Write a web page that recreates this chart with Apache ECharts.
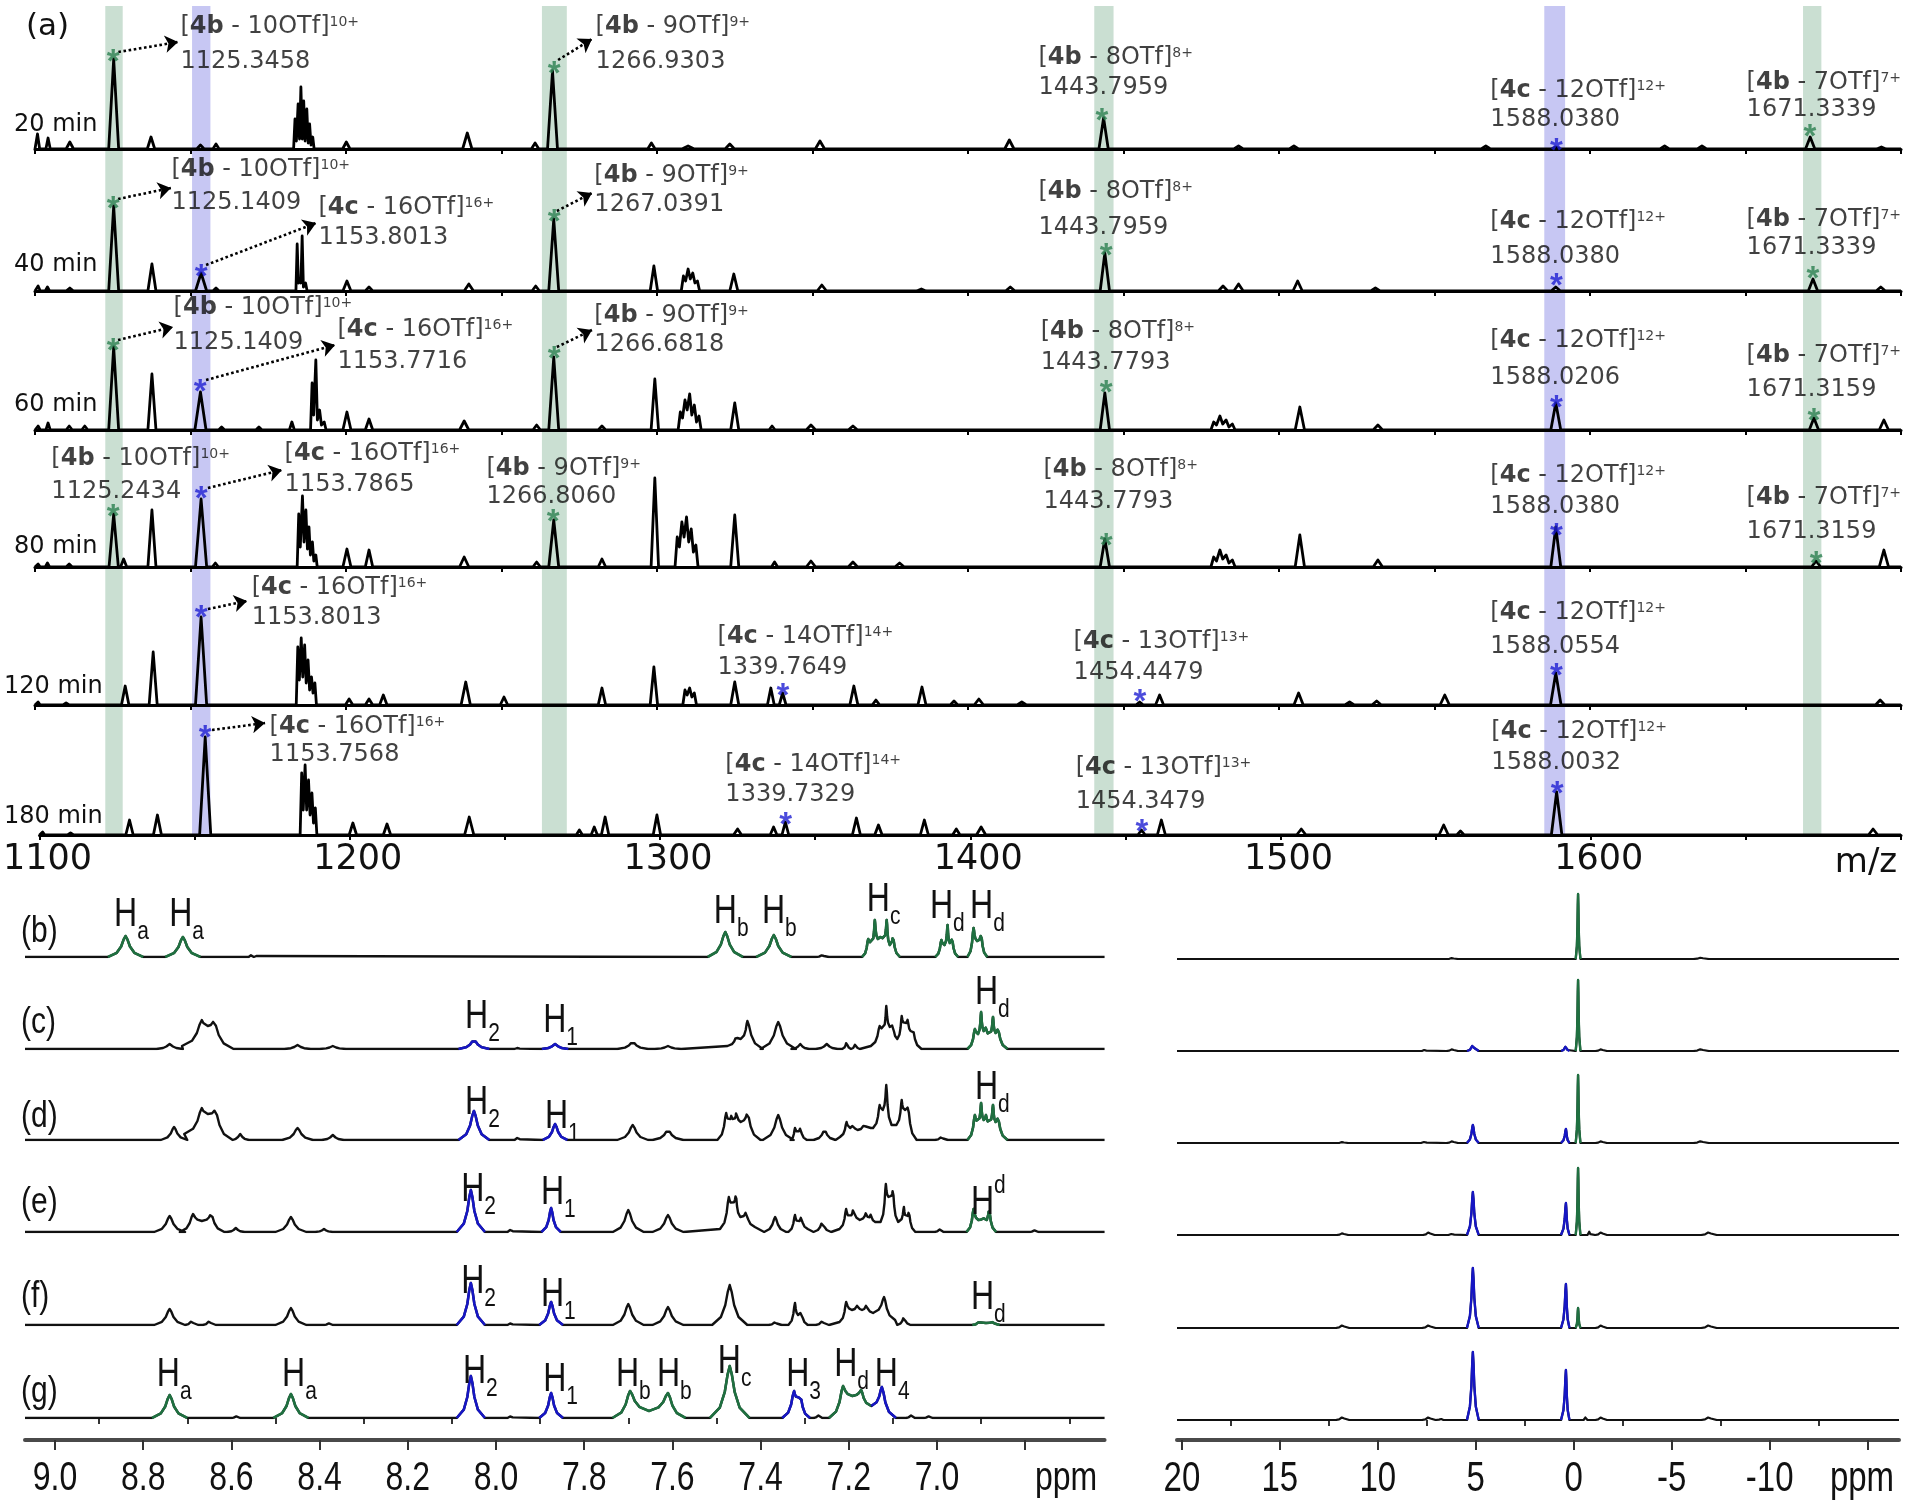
<!DOCTYPE html>
<html><head><meta charset="utf-8">
<script src="https://cdn.jsdelivr.net/npm/echarts@6/dist/echarts.min.js"></script>
<style>html,body{margin:0;padding:0;background:#fff}#c{width:1912px;height:1505px}</style>
</head><body><div id="c"></div>
<script>
// ===================== DATA =====================
const mzMin = 1100, mzMax = 1700;
const mzTickLabels = [1100, 1200, 1300, 1400, 1500, 1600];
const timeLabels = ['20 min', '40 min', '60 min', '80 min', '120 min', '180 min'];
const bandsGreen = [[1122.6, 1128.2], [1263, 1271], [1440.6, 1446.8], [1668.5, 1674.4]];
const bandsBlue = [[1150.5, 1156.4], [1585.3, 1592]];

// mass spectra peaks: [m/z, intensity, half-width, valleyLeft, valleyRight]
const ms20 = [[1100.8,15,0.7],[1104.2,11,0.7],[1111.2,7,1.2],[1125.3,90,1.6],[1137.3,12,1.2],[1153.2,4,1.2],[1158.2,5,1.0],
 [1183.6,30,0.45,0,8],[1184.6,45,0.45,8,10],[1185.5,62,0.45,10,10],[1186.4,48,0.45,10,8],[1187.4,40,0.45,8,6],[1188.3,25,0.45,6,4],[1189.3,12,0.45,4,0],
 [1200.1,7,1.2],[1239.0,16,1.5],[1260.8,6,1.2],[1266.4,78,1.6],[1298.2,6,1.2],[1310,3,2],[1323.4,5,1.5],[1352.4,8,1.5],[1413.3,9,1.5],[1443.6,31,1.5],
 [1487,3,1.5],[1504.8,3,1.5],[1566.5,3,1.5],[1589,2,1.5],[1624,3,1.5],[1636,3,1.5],[1670.8,12,1.5],[1693.7,2,1.5]];
const ms40 = [[1101,5,0.7],[1104,4,0.7],[1111.2,3,1.2],[1125.3,85,1.6],[1137.6,27,1.3],[1153.4,18,1.8],[1158.2,3,1],
 [1184.3,47,0.4,0,8],[1185.1,12,0.4,8,8],[1185.9,55,0.4,8,4],[1187,8,0.5,4,0],
 [1200.3,10,1.3],[1207.4,4,1.2],[1239.5,7,1.5],[1261,5,1.2],[1266.8,72,1.6],
 [1299,25,1.2],[1308.5,15,0.7,0,10],[1310,22,0.7,10,12],[1311.5,18,0.7,12,8],[1313,10,0.7,8,0],[1324.7,17,1.3],[1353,6,1.5],[1385,2,1.5],[1413.6,4,1.5],[1444,38,1.5],
 [1482,5,1.5],[1487,7,1.5],[1506,10,1.5],[1531,3,1.5],[1589,4,1.5],[1671.7,12,1.5],[1693.5,4,1.5]];
const ms60 = [[1101,4,0.7],[1104.2,7,0.7],[1111,4,1],[1116,4,1],[1125.3,83,1.6],[1137.6,56,1.3],[1153.2,38,1.8],[1160,3,1],[1172,3,1],[1182.6,8,0.8],
 [1189.1,47,0.5,0,15],[1190.3,70,0.5,15,10],[1191.5,20,0.6,10,5],[1193,8,0.6,5,0],
 [1200.3,18,1.3],[1207.4,11,1.2],[1238,9,1.5],[1261.3,5,1.2],[1266.8,73,1.6],[1282.3,4,1.2],
 [1299.3,51,1.2],[1307.5,18,0.7,0,12],[1309,30,0.7,12,20],[1310.5,36,0.7,20,15],[1312,25,0.7,15,8],[1313.5,14,0.7,8,0],[1325,27,1.3],[1337,4,1],[1349.5,5,1.5],[1363,4,1.5],[1444,37,1.5],
 [1479,8,0.9,0,5],[1481,14,0.9,5,6],[1483,10,0.9,6,3],[1485,6,0.9,3,0],[1506.7,23,1.5],[1531.8,5,1.5],[1589,27,1.6],[1672,12,1.5],[1694.5,10,1.5]];
const ms80 = [[1101,3,0.7],[1104,4,0.7],[1111,3,1],[1125.3,53,1.5],[1128.5,8,1],[1137.6,57,1.3],[1153.4,68,1.8],[1158,4,1],
 [1184.8,53,0.5,0,20],[1186,71,0.5,20,25],[1187.1,57,0.5,25,18],[1188.1,40,0.45,18,12],[1189.2,25,0.45,12,6],[1190.3,12,0.45,6,0],
 [1200.3,18,1.3],[1207.4,17,1.2],[1238,10,1.5],[1261.3,5,1.2],[1266.8,47,1.6],[1282.3,8,1.2],
 [1299.3,89,1.2],[1306.5,30,0.7,0,20],[1308,45,0.7,20,30],[1309.5,50,0.7,30,25],[1311,38,0.7,25,15],[1312.5,22,0.7,15,0],[1325,52,1.3],[1337.8,5,1],[1349.5,6,1.5],[1363,5,1.5],[1378,4,1.5],[1444,28,1.5],
 [1479,10,0.9,0,6],[1481,17,0.9,6,8],[1483,12,0.9,8,4],[1485,7,0.9,4,0],[1506.7,32,1.5],[1531.8,7,1.5],[1589,40,1.6],[1672.7,6,1.5],[1694.5,17,1.5]];
const ms120 = [[1101,3,0.7],[1110,2,1],[1129,19,1.2],[1138,53,1.3],[1153.4,88,1.8],
 [1184.5,58,0.5,0,25],[1185.6,67,0.5,25,28],[1186.7,60,0.5,28,22],[1187.8,45,0.5,22,15],[1188.9,28,0.5,15,12],[1190,22,0.5,12,0],
 [1201,6,1.2],[1207.4,6,1.2],[1212,10,1.2],[1238.5,23,1.5],[1250.8,8,1.2],[1282.3,17,1.2],
 [1299,38,1.2],[1309,15,0.7,0,10],[1310.5,17,0.7,10,8],[1312,12,0.7,8,0],[1325,23,1.3],[1336.6,17,1.1],[1340.4,12,1.1],[1363.3,19,1.3],[1370.4,5,1.2],[1385.2,18,1.3],[1395.5,4,1.2],[1403.5,6,1.5],[1417.3,3,1.5],
 [1455.2,3,1.2],[1461.6,10,1.3],[1506.3,12,1.5],[1522.7,3,1.5],[1531.4,4,1.5],[1553.3,10,1.5],[1589,32,1.7],[1693.3,5,1.5]];
const ms180 = [[1101,3,0.7],[1110,2,1],[1129,15,1.2],[1138,20,1.3],[1153.4,98,1.8],
 [1184.5,62,0.5,0,25],[1185.6,70,0.5,25,25],[1186.7,55,0.5,25,20],[1187.8,42,0.5,20,12],[1188.9,27,0.5,12,0],
 [1201,12,1.2],[1212,11,1.2],[1238.5,18,1.5],[1274,5,1],[1278.8,8,1],[1282.3,18,1.2],
 [1299,20,1.2],[1325,6,1.3],[1336.6,8,1.1],[1340.4,13,1.1],[1363.3,17,1.3],[1370.4,10,1.2],[1385.2,15,1.3],[1395.5,6,1.2],[1403.5,8,1.5],
 [1455.2,5,1.2],[1461.6,15,1.3],[1506.7,6,1.5],[1552.6,10,1.5],[1558,4,1.2],[1589,43,1.7],[1691,6,1.5]];

// ion annotations: [trace, m/z of text, y line1, y line2, cage, n, charge, found m/z, star m/z, star y, colour, arrow]
const msAnno = [
 [0,1146.6,122,87,'4b','10','10+','1125.3458',1125.1,96,'g',[1126.8,97,1146,107]],
 [0,1280.1,122,87,'4b','9','9+','1266.9303',1266.9,84,'g',[1268.2,89,1279.1,110]],
 [0,1422.5,91,61,'4b','8','8+','1443.7959',1443.1,37,'g',null],
 [0,1567.8,58,29,'4c','12','12+','1588.0380',1589.2,7,'b',null],
 [0,1650.2,66,39,'4b','7','7+','1671.3339',1670.7,21,'g',null],
 [1,1143.7,121,88,'4b','10','10+','1125.1409',1125.1,91,'g',[1126.7,92,1143.7,103]],
 [1,1191.0,83,53,'4c','16','16+','1153.8013',1153.4,23,'b',[1155.0,26,1190.4,68]],
 [1,1279.7,115,86,'4b','9','9+','1267.0391',1266.9,78,'g',[1267.8,80,1279.1,98]],
 [1,1422.5,99,63,'4b','8','8+','1443.7959',1444.4,44,'g',null],
 [1,1567.8,69,34,'4c','12','12+','1588.0380',1589.2,14,'b',null],
 [1,1650.2,71,43,'4b','7','7+','1671.3339',1671.7,21,'g',null],
 [2,1144.4,122,87,'4b','10','10+','1125.1409',1125.1,88,'g',[1126.7,90,1144.4,103]],
 [2,1197.1,100,68,'4c','16','16+','1153.7716',1153.1,47,'b',[1155.0,50,1196.5,85]],
 [2,1279.7,114,85,'4b','9','9+','1266.6818',1266.9,80,'g',[1267.8,83,1279.1,100]],
 [2,1423.2,98,67,'4b','8','8+','1443.7793',1444.4,46,'g',null],
 [2,1567.8,89,52,'4c','12','12+','1588.0206',1589.2,31,'b',null],
 [2,1650.2,74,40,'4b','7','7+','1671.3159',1672.0,18,'g',null],
 [3,1105.1,108,75,'4b','10','10+','1125.2434',1125.1,59,'g',null],
 [3,1180.1,113,82,'4c','16','16+','1153.7865',1153.4,77,'b',[1155.6,79,1179.4,97]],
 [3,1245.0,98,70,'4b','9','9+','1266.8060',1266.6,54,'g',null],
 [3,1424.1,97,65,'4b','8','8+','1443.7793',1444.4,30,'g',null],
 [3,1567.8,91,60,'4c','12','12+','1588.0380',1589.2,40,'b',null],
 [3,1650.2,69,35,'4b','7','7+','1671.3159',1672.7,12,'g',null],
 [4,1169.5,117,87,'4c','16','16+','1153.8013',1153.4,96,'b',[1155.6,96,1168.2,104]],
 [4,1319.3,68,37,'4c','14','14+','1339.7649',1340.5,18,'b',null],
 [4,1433.8,63,32,'4c','13','13+','1454.4479',1455.3,12,'b',null],
 [4,1567.8,92,58,'4c','12','12+','1588.0554',1589.2,38,'b',null],
 [5,1174.0,108,80,'4c','16','16+','1153.7568',1153.4,106,'b',[1155.6,105,1172.7,112]],
 [5,1320.9,70,40,'4c','14','14+','1339.7329',1340.5,19,'b',null],
 [5,1433.8,67,33,'4c','13','13+','1454.3479',1455.3,12,'b',null],
 [5,1567.8,103,72,'4c','12','12+','1588.0032',1589.2,50,'b',null]
];

// 1H NMR (left) peaks: [colour, ppm, height, halfWidthLeft, halfWidthRight, valleyLeft, valleyRight]
const hTicks = [9.0, 8.8, 8.6, 8.4, 8.2, 8.0, 7.8, 7.6, 7.4, 7.2, 7.0];
const hB = [['g',8.84,21,0.04],['g',8.71,20,0.04],['k',8.555,2,0.006],['k',8.545,2,0.006],['g',7.48,25,0.04],['g',7.37,22,0.04],['k',7.26,2,0.015],
 ['g',7.156,18,0.014,0.008,0,14],['g',7.141,37,0.007,0.007,14,18],['g',7.127,22,0.007,0.007,18,18],['g',7.114,37,0.007,0.007,18,12],['g',7.100,20,0.007,0.016,12,0],
 ['g',6.99,17,0.014,0.007,0,12],['g',6.976,32,0.007,0.005,12,14],['g',6.966,18,0.005,0.014,14,0],
 ['g',6.917,29,0.014,0.008,0,16],['g',6.90,22,0.008,0.014,16,0]];
const hC = [['k',8.74,5,0.03],['k',8.667,29,0.045,0.0135,3,23],['k',8.64,28,0.0135,0.045,23,0],['k',8.45,4,0.03],['k',8.37,3,0.03],
 ['b',8.05,9,0.035],['k',7.95,2,0.008],['b',7.866,5,0.03],['k',7.69,7,0.035],['k',7.61,3,0.03],
 ['k',7.455,12,0.02,0.01,3,10],['k',7.43,28,0.015,0.035,10,0],['k',7.36,27,0.04],['k',7.31,5,0.02],['k',7.25,5,0.025],['k',7.205,7,0.01],['k',7.185,5,0.01],
 ['k',7.13,23,0.02,0.008,3,20],['k',7.115,43,0.007,0.008,20,22],['k',7.10,25,0.007,0.01,22,10],['k',7.08,33,0.01,0.007,10,25],['k',7.066,30,0.007,0.006,25,18],['k',7.055,20,0.005,0.02,18,0],
 ['g',6.914,20,0.017,0.007,0,15],['g',6.90,37,0.007,0.006,15,18],['g',6.889,22,0.005,0.008,18,14],['g',6.873,32,0.008,0.006,14,16],['g',6.862,20,0.005,0.022,16,0]];
const hD = [['k',8.73,13,0.03],['k',8.667,32,0.04,0.0135,6,26],['k',8.637,30,0.0135,0.04,26,0],['k',8.58,6,0.02],['k',8.45,12,0.035],['k',8.37,5,0.025],
 ['b',8.05,29,0.035],['k',7.95,4,0.008],['b',7.866,16,0.028],['k',7.69,15,0.035],['k',7.61,10,0.035],
 ['k',7.478,27,0.02,0.007,0,20],['k',7.466,25,0.005,0.005,20,20],['k',7.455,28,0.006,0.01,20,18],['k',7.43,27,0.015,0.03,18,0],['k',7.36,25,0.035],
 ['k',7.322,12,0.01,0.006,0,8],['k',7.31,12,0.006,0.015,8,0],['k',7.255,10,0.025],
 ['k',7.205,18,0.015,0.008,3,12],['k',7.19,16,0.007,0.01,12,10],['k',7.165,15,0.015,0.015,10,12],
 ['k',7.13,35,0.015,0.007,12,30],['k',7.115,55,0.008,0.012,30,15],['k',7.08,40,0.012,0.006,15,30],['k',7.066,33,0.006,0.02,30,0],['k',6.99,3,0.015],
 ['g',6.914,25,0.017,0.007,0,18],['g',6.90,37,0.007,0.006,18,20],['g',6.889,25,0.005,0.008,20,17],['g',6.873,35,0.008,0.006,17,18],['g',6.862,22,0.005,0.022,18,0]];
const hE = [['k',8.74,16,0.035],['k',8.687,18,0.03,0.02,0,11],['k',8.646,18,0.02,0.03,11,0],['k',8.59,4,0.02],['k',8.465,15,0.035],['k',8.39,3,0.02],
 ['b',8.057,42,0.032],['k',7.966,4,0.008],['b',7.875,24,0.022],['k',7.70,22,0.035],['k',7.61,17,0.035],
 ['k',7.472,35,0.02,0.008,3,28],['k',7.456,37,0.008,0.01,28,15],['k',7.433,20,0.01,0.02,15,5],['k',7.367,15,0.025],
 ['k',7.322,17,0.015,0.007,0,10],['k',7.308,15,0.007,0.015,10,3],['k',7.26,10,0.02],
 ['k',7.206,23,0.015,0.008,3,15],['k',7.19,23,0.008,0.015,15,12],['k',7.16,20,0.015,0.005,12,14],['k',7.15,18,0.005,0.01,14,10],
 ['k',7.116,48,0.012,0.006,10,35],['k',7.10,42,0.006,0.012,35,10],['k',7.075,25,0.01,0.005,10,15],['k',7.064,20,0.005,0.015,15,0],['k',6.995,3,0.01],
 ['g',6.917,23,0.016,0.011,0,12],['g',6.895,14,0.011,0.008,12,12],['g',6.882,22,0.008,0.016,12,0],['k',6.78,2,0.01]];
const hF = [['k',8.74,16,0.035],['k',8.69,4,0.015],['k',8.65,4,0.015],['k',8.465,17,0.035],['k',8.38,2,0.01],
 ['b',8.057,42,0.032],['k',7.966,3,0.008],['b',7.875,23,0.027],['k',7.70,21,0.035],['k',7.61,18,0.035],['k',7.47,40,0.04],['k',7.367,3,0.015],
 ['k',7.322,22,0.015,0.007,0,10],['k',7.308,14,0.007,0.015,10,0],['k',7.26,4,0.015],
 ['k',7.206,23,0.015,0.013,3,15],['k',7.18,20,0.013,0.01,15,15],['k',7.16,20,0.01,0.015,15,12],['k',7.12,28,0.025,0.025,12,5],['k',7.075,8,0.015],
 ['g',6.905,3,0.015,0.016,0,2],['g',6.873,3,0.016,0.015,2,0]];
const hG = [['g',8.74,23,0.04],['k',8.59,2,0.01],['g',8.465,24,0.04],['b',8.057,42,0.032],['k',7.966,3,0.008],['b',7.875,25,0.027],
 ['g',7.696,27,0.04,0.043,0,7],['g',7.61,25,0.043,0.04,7,0],['g',7.47,52,0.045],
 ['b',7.324,27,0.027,0.008,0,20],['b',7.31,22,0.006,0.022,20,0],['k',7.27,3,0.01],
 ['g',7.213,32,0.032,0.021,0,22],['g',7.172,28,0.02,0.023,22,12],['b',7.125,31,0.024,0.032,12,0],['k',7.06,3,0.01],['k',7.02,2,0.01]];

// 19F NMR (right) peaks: same format
const fTicks = [20, 15, 10, 5, 0, -5, -10];
const fB = [['k',6.2,1,0.3],['g',-0.22,65,0.12],['k',-6.5,1.5,0.4]];
const fC = [['k',7.6,2,0.15],['k',6.2,2,0.3],['b',5.15,6,0.3],['b',0.4,5,0.25,0.18],['g',-0.22,71,0.12],['k',-1.4,2,0.3],['k',-6.5,2,0.4]];
const fD = [['k',11.8,1,0.3],['k',7.6,2,0.2],['k',6.2,2,0.3],['b',5.15,18,0.3],['b',0.4,14,0.25,0.18],['g',-0.22,68,0.12],['k',-1.4,2,0.3],['k',-6.5,2,0.4]];
const fE = [['k',11.8,2,0.3],['k',7.4,3,0.3],['k',6.2,2,0.2],['b',5.15,43,0.3],['b',0.4,32,0.25,0.18],['g',-0.22,67,0.12],['k',-0.8,4,0.1],['k',-1.4,3,0.3],['k',-6.9,3,0.4]];
const fF = [['k',11.8,3,0.35],['k',7.4,3,0.35],['b',5.15,60,0.3],['b',0.4,44,0.25,0.18],['g',-0.22,20,0.12],['k',-1.4,3,0.3],['k',-6.9,3,0.4]];
const fG = [['k',11.8,3,0.35],['k',7.4,3,0.35],['k',6.8,2,0.15],['b',5.15,68,0.3],['b',0.4,50,0.25,0.18],['k',-0.6,3,0.1],['k',-1.4,3,0.3],['k',-6.9,3,0.4]];

// proton assignments: [trace, ppm at text start, height, main, index, 'sub'|'sup']
const hLabels = [
 [0,8.866,37,'H','a'],[0,8.741,37,'H','a'],[0,7.506,40,'H','b'],[0,7.397,40,'H','b'],[0,7.159,52,'H','c'],[0,7.016,45,'H','d'],[0,6.925,45,'H','d'],
 [1,8.070,27,'H','2'],[1,7.893,23,'H','1'],[1,6.914,51,'H','d'],
 [2,8.070,32,'H','2'],[2,7.889,18,'H','1'],[2,6.914,47,'H','d'],
 [3,8.079,37,'H','2'],[3,7.898,34,'H','1'],[3,6.923,34,'H','d','sup'],
 [4,8.079,38,'H','2'],[4,7.898,25,'H','1'],[4,6.923,22,'H','d'],
 [5,8.769,38,'H','a'],[5,8.485,38,'H','a'],[5,8.075,41,'H','2'],[5,7.893,33,'H','1'],[5,7.728,38,'H','b'],[5,7.635,38,'H','b'],
 [5,7.497,51,'H','c'],[5,7.342,38,'H','3'],[5,7.233,48,'H','d'],[5,7.141,38,'H','4']
];
const panelNames = ['(b)', '(c)', '(d)', '(e)', '(f)', '(g)'];

// ===================== STYLE / LAYOUT =====================
const FONT = 'DejaVu Sans', FONT2 = 'Liberation Sans';
const TXT = '#111';
const COL = { k: '#111111', g: '#1f7040', b: '#1616c4' };
const STAR = { g: '#2a8050', b: '#1e1ed2' };
const G_BAND = '#cadfd2', B_BAND = '#c7c7f3';
const MS_LEFT = 35, MS_RIGHT = 11;
const msTop = [6, 149, 291, 430, 567, 705], msBase = [149, 291, 430, 567, 705, 835];
const nmrBaseL = [957, 1049, 1140, 1232, 1325, 1418], nmrBaseR = [959, 1051, 1143, 1235, 1328, 1420];
const NMR_H = 80, NMR_AXIS_Y = 1440, NMR_LABEL_Y = 1479;
const H_MIN = 6.62, H_MAX = 9.068, F_MIN = -16.6, F_MAX = 20.25;
const timeLabelPos = [[14,125],[14,265],[14,405],[14,547],[4,687],[4,817]];
const panelLabelY = [932, 1023, 1117, 1203, 1297, 1392];
const STRETCH = 1.27;

const grid = [], xAxis = [], yAxis = [], series = [], graphic = [];
function addGrid(g, x, y) {
  grid.push(g); const i = grid.length - 1;
  xAxis.push(Object.assign({ gridIndex: i, type: 'value', splitLine: { show: false } }, x));
  yAxis.push(Object.assign({ gridIndex: i, type: 'value', show: false, splitLine: { show: false } }, y));
  return { g: i, x: xAxis.length - 1, y: yAxis.length - 1 };
}

// ---- background bands grid
const gb = addGrid({ left: MS_LEFT, right: MS_RIGHT, top: msTop[0], height: msBase[5] - msTop[0] },
  { min: mzMin, max: mzMax, show: false }, { min: 0, max: 1 });
series.push({
  type: 'line', xAxisIndex: gb.x, yAxisIndex: gb.y, data: [[mzMin, 0]], symbol: 'none', lineStyle: { opacity: 0 }, silent: true, z: 0,
  markArea: { silent: true, data: bandsGreen.map(b => [{ xAxis: b[0], itemStyle: { color: G_BAND } }, { xAxis: b[1] }])
    .concat(bandsBlue.map(b => [{ xAxis: b[0], itemStyle: { color: B_BAND } }, { xAxis: b[1] }])) }
});

// ---- mass spectra
const msData = [ms20, ms40, ms60, ms80, ms120, ms180];
function msPts(peaks) {
  const pts = [[mzMin, 0]];
  peaks.forEach(p => { const c = p[0], h = p[1], w = p[2], vl = p[3] || 0, vr = p[4] || 0; pts.push([c - w, vl], [c, h], [c + w, vr]); });
  pts.push([mzMax, 0]); return pts;
}
const msRich = {
  b: { fontFamily: FONT, fontWeight: 'bold', fontSize: 24, color: TXT },
  s: { fontFamily: FONT, fontSize: 14, verticalAlign: 'top', color: TXT }
};
msData.forEach((peaks, i) => {
  const h = msBase[i] - msTop[i];
  const last = i === msData.length - 1;
  const a = addGrid({ left: MS_LEFT, right: MS_RIGHT, top: msTop[i], height: h }, {
    min: mzMin, max: mzMax, interval: 50, z: 3,
    axisLine: { show: true, onZero: false, lineStyle: { color: '#000', width: 3 } },
    axisTick: { show: true, length: 5, lineStyle: { color: '#000', width: 2 } },
    axisLabel: last ? { show: true, fontFamily: FONT, fontSize: 35, color: TXT, margin: 7, padding: [0, 0, 0, 16],
      formatter: v => (mzTickLabels.indexOf(v) >= 0 ? String(v) : '') } : { show: false }
  }, { min: 0, max: h });
  series.push({ type: 'line', xAxisIndex: a.x, yAxisIndex: a.y, data: msPts(peaks), symbol: 'none', silent: true, z: 3,
    lineStyle: { color: '#000', width: 2.8, join: 'round' } });
  const labels = [], arrows = [];
  msAnno.filter(r => r[0] === i).forEach(r => {
    labels.push({ value: [r[1], r[2]], label: { show: true, position: 'right', distance: 0, fontFamily: FONT, fontSize: 24, color: TXT,
      formatter: '[{b|' + r[4] + '} - ' + r[5] + 'OTf]{s|' + r[6] + '}', rich: msRich } });
    labels.push({ value: [r[1], r[3]], label: { show: true, position: 'right', distance: 0, fontFamily: FONT, fontSize: 24, color: TXT, formatter: r[7] } });
    labels.push({ value: [r[8], r[9]], label: { show: true, position: 'inside', offset: [0, 10], fontFamily: FONT2, fontWeight: 'bold', fontSize: 33, color: STAR[r[10]], formatter: '*' } });
    if (r[11]) arrows.push({ coords: [[r[11][0], r[11][1]], [r[11][2], r[11][3]]] });
  });
  series.push({ type: 'scatter', xAxisIndex: a.x, yAxisIndex: a.y, data: labels, symbolSize: 1, itemStyle: { color: 'rgba(0,0,0,0)' }, silent: true, z: 6 });
  if (arrows.length) series.push({ type: 'lines', coordinateSystem: 'cartesian2d', xAxisIndex: a.x, yAxisIndex: a.y, data: arrows, silent: true, z: 5,
    symbol: ['none', 'arrow'], symbolSize: 13, lineStyle: { color: '#000', width: 2.6, type: 'dotted', curveness: 0, opacity: 1 } });
});

// ---- NMR helpers (fixed Lorentzian-like outline through each read peak)
function pk(p) {
  const c = p[1], h = p[2], wl = p[3], wr = (p[4] == null ? wl : p[4]), vl = p[5] || 0, vr = p[6] || 0;
  return [[c + wl, vl], [c + 0.5 * wl, vl + 0.2 * (h - vl)], [c + 0.25 * wl, vl + 0.5 * (h - vl)], [c + 0.11 * wl, vl + 0.83 * (h - vl)], [c, h],
          [c - 0.11 * wr, vr + 0.83 * (h - vr)], [c - 0.25 * wr, vr + 0.5 * (h - vr)], [c - 0.5 * wr, vr + 0.2 * (h - vr)], [c - wr, vr]];
}
function nmrSeries(peaks, lo, hi, a, width) {
  const sorted = peaks.slice().sort((p, q) => q[1] - p[1]);
  const all = [[hi, 0]];
  sorted.forEach(p => { pk(p).forEach(q => all.push(q)); });
  all.push([lo, 0]);
  series.push({ type: 'line', xAxisIndex: a.x, yAxisIndex: a.y, data: all, symbol: 'none', silent: true, z: 3, lineStyle: { color: COL.k, width: width, join: 'round' } });
  let run = null, runCol = null, prev = null;
  const flush = () => { if (run && run.length) series.push({ type: 'line', xAxisIndex: a.x, yAxisIndex: a.y, data: run, symbol: 'none', silent: true, z: 4,
      lineStyle: { color: COL[runCol], width: width + 0.2, join: 'round' } }); run = null; runCol = null; };
  sorted.forEach(p => {
    const col = p[0];
    if (col === 'k') { flush(); prev = p; return; }
    const cont = run && runCol === col && prev && prev[0] === col && (prev[6] || 0) > 0 && (p[5] || 0) > 0;
    if (!cont) { flush(); run = []; runCol = col; }
    pk(p).forEach(q => run.push(q)); prev = p;
  });
  flush();
}
const hData = [hB, hC, hD, hE, hF, hG];
const fData = [fB, fC, fD, fE, fF, fG];
const hMinor = [], hMajor = [];
for (let k = 67; k <= 90; k++) { if (k % 2 === 0) hMajor.push(k / 10); else hMinor.push(k / 10); }
const fMajor = [20, 15, 10, 5, 0, -5, -10, -15], fMinor = [17.5, 12.5, 7.5, 2.5, -2.5, -7.5, -12.5];

const hAx = [], fAx = [];
hData.forEach((peaks, i) => {
  const last = i === hData.length - 1;
  const a = addGrid({ left: 25, width: (H_MAX - H_MIN) * 441, top: nmrBaseL[i] - NMR_H, height: NMR_H },
    last ? { min: H_MIN, max: H_MAX, inverse: true, offset: NMR_AXIS_Y - nmrBaseL[i], z: 3,
      axisLine: { show: true, onZero: false, lineStyle: { color: '#4a4a4a', width: 4 } },
      axisTick: { show: true, length: 10, customValues: hMajor, lineStyle: { color: '#333', width: 2 } },
      axisLabel: { show: false } }
      : { min: H_MIN, max: H_MAX, inverse: true, show: false },
    { min: 0, max: NMR_H });
  hAx.push(a);
  if (last) xAxis.push({ gridIndex: a.g, type: 'value', min: H_MIN, max: H_MAX, inverse: true, offset: NMR_AXIS_Y - nmrBaseL[i], position: 'bottom', z: 3,
    axisLine: { show: false }, axisTick: { show: true, length: 6, customValues: hMinor, lineStyle: { color: '#333', width: 2 } },
    axisLabel: { show: false }, splitLine: { show: false } });
  nmrSeries(peaks, H_MIN, H_MAX, a, 2.4);
});
fData.forEach((peaks, i) => {
  const last = i === fData.length - 1;
  const a = addGrid({ left: 1177, width: 722, top: nmrBaseR[i] - NMR_H, height: NMR_H },
    last ? { min: F_MIN, max: F_MAX, inverse: true, offset: NMR_AXIS_Y - nmrBaseR[i], z: 3,
      axisLine: { show: true, onZero: false, lineStyle: { color: '#4a4a4a', width: 4 } },
      axisTick: { show: true, length: 10, customValues: fMajor, lineStyle: { color: '#333', width: 2 } },
      axisLabel: { show: false } }
      : { min: F_MIN, max: F_MAX, inverse: true, show: false },
    { min: 0, max: NMR_H });
  fAx.push(a);
  if (last) xAxis.push({ gridIndex: a.g, type: 'value', min: F_MIN, max: F_MAX, inverse: true, offset: NMR_AXIS_Y - nmrBaseR[i], position: 'bottom', z: 3,
    axisLine: { show: false }, axisTick: { show: true, length: 6, customValues: fMinor, lineStyle: { color: '#333', width: 2 } },
    axisLabel: { show: false }, splitLine: { show: false } });
  nmrSeries(peaks, F_MIN, F_MAX, a, 2.2);
});

// ---- plain text decorations
function txt(t, x, y, size, font, align, sy) {
  graphic.push({ type: 'text', x: x, y: y, scaleY: sy || 1, silent: true, z: 10,
    style: { text: t, fontSize: size, fontFamily: font, fill: TXT, align: align || 'left', verticalAlign: 'middle' } });
}
txt('(a)', 26, 27, 31, FONT);
timeLabels.forEach((t, i) => txt(t, timeLabelPos[i][0], timeLabelPos[i][1], 24, FONT));
panelNames.forEach((t, i) => txt(t, 21, panelLabelY[i], 30, FONT2, 'left', 1.22));
txt('m/z', 1866, 863, 34, FONT, 'center');

const chart = echarts.init(document.getElementById('c'), null, { renderer: 'canvas' });
chart.setOption({ animation: false, backgroundColor: '#fff', grid: grid, xAxis: xAxis, yAxis: yAxis, series: series });

// NMR tick labels and proton labels, placed through the axes' own scales
const gl = hAx[hAx.length - 1], gr = fAx[fAx.length - 1];
hTicks.forEach(v => { const p = chart.convertToPixel({ xAxisIndex: gl.x, yAxisIndex: gl.y }, [v, 0]); txt(v.toFixed(1), p[0], NMR_LABEL_Y, 32, FONT2, 'center', STRETCH); });
fTicks.forEach(v => { const p = chart.convertToPixel({ xAxisIndex: gr.x, yAxisIndex: gr.y }, [v, 0]); txt(String(v), p[0], NMR_LABEL_Y, 33, FONT2, 'center', STRETCH); });
txt('ppm', 1066, NMR_LABEL_Y, 32, FONT2, 'center', STRETCH);
txt('ppm', 1862, NMR_LABEL_Y, 33, FONT2, 'center', STRETCH);
hLabels.forEach(l => {
  const a = hAx[l[0]]; const p = chart.convertToPixel({ xAxisIndex: a.x, yAxisIndex: a.y }, [l[1], l[2]]);
  const sup = l[5] === 'sup';
  graphic.push({ type: 'text', x: p[0], y: p[1], scaleY: STRETCH, silent: true, z: 10,
    style: { text: '{h|' + l[3] + '}{s|' + l[4] + '}', align: 'left', verticalAlign: 'middle', fill: TXT,
      rich: { h: { fontFamily: FONT2, fontSize: 32, fill: TXT, padding: sup ? [8, 0, 0, 0] : [0, 0, 8, 0] },
              s: { fontFamily: FONT2, fontSize: 21, fill: TXT, verticalAlign: sup ? 'top' : 'bottom' } } } });
});
chart.setOption({ graphic: graphic });
</script></body></html>
